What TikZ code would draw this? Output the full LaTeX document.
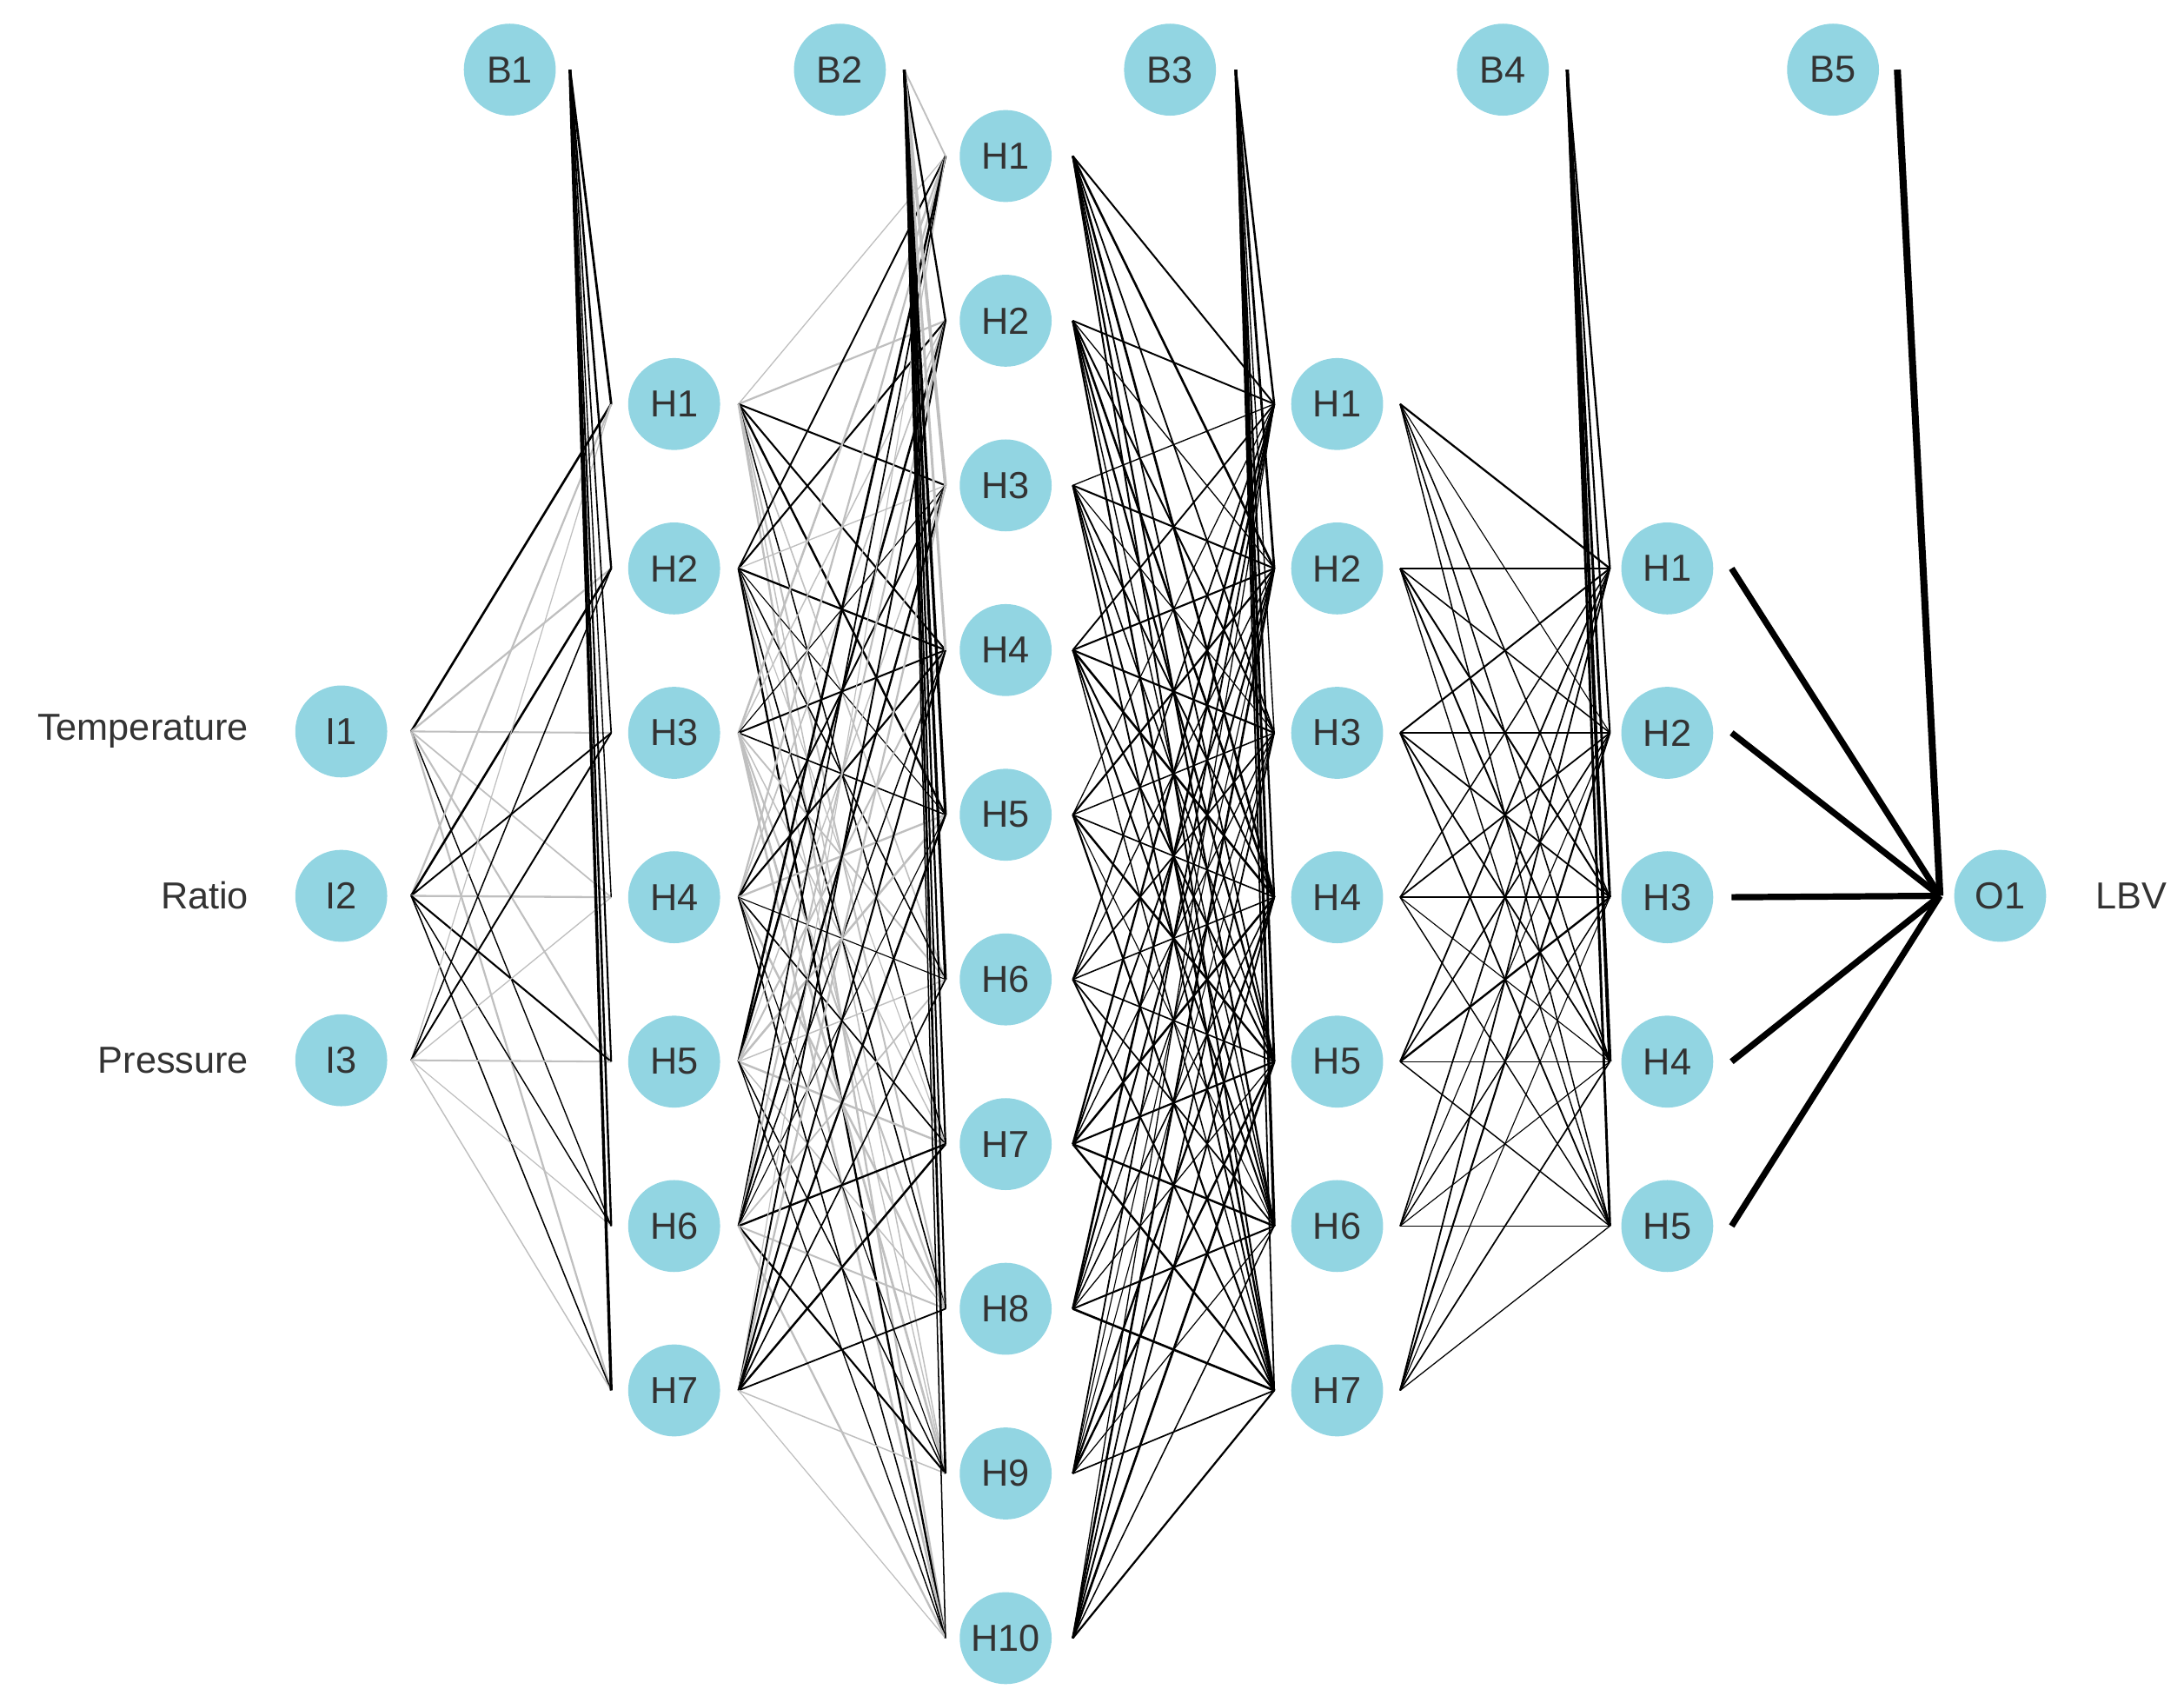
\documentclass[tikz,border=0pt]{standalone}
\usepackage{fontspec}
\setmainfont{Liberation Sans}
\begin{document}
\begin{tikzpicture}[x=1pt,y=-1pt,
  neuron/.style={circle,fill=nodeblue,minimum size=66pt,inner sep=0pt,text=black!80,font=\fontsize{27}{27}\selectfont},
  lab/.style={text=black!80,font=\fontsize{27}{27}\selectfont},
  conn/.style={line width=1pt}]
\definecolor{nodeblue}{HTML}{92D5E2}
\useasboundingbox (0,0) rectangle (1568,1217);
\pgfmathsetseed{11}
% nodes
\foreach \k/\y/\t in {1/525/Temperature,2/643/Ratio,3/761/Pressure}{
  \node[neuron] (i\k) at (245,\y) {I\k};
  \node[lab,anchor=east] (t\k) at (182,\y) {\t};}
\foreach \k in {1,...,7}{\pgfmathsetmacro\y{290+(\k-1)*118}
  \node[neuron] (a\k) at (484,\y) {H\k};
  \node[neuron] (c\k) at (960,\y) {H\k};}
\foreach \k in {1,...,10}{\pgfmathsetmacro\y{112+(\k-1)*118.2}
  \node[neuron] (b\k) at (722,\y) {H\k};}
\foreach \k in {1,...,5}{\pgfmathsetmacro\y{408+(\k-1)*118}
  \node[neuron] (d\k) at (1197,\y) {H\k};}
\node[neuron] (o1) at (1436,643) {O1};
\node[lab] (lbv) at (1530,643) {LBV};
\foreach \k/\x in {1/366,2/603,3/840,4/1079,5/1316}{\node[neuron] (bb\k) at (\x,50) {B\k};}
% layer 1
\foreach \i in {1,2,3}\foreach \j in {1,...,7}{
  \pgfmathsetmacro\g{rnd>0.5?100:25}\pgfmathsetmacro\w{0.7+rnd*1.0}
  \draw[black!\g,line width=\w pt] ([xshift=17pt]i\i.east) -- ([xshift=-12pt]a\j.west);}
\foreach \j in {1,...,7}{\pgfmathsetmacro\w{0.8+rnd*1.5}
  \draw[black,line width=\w pt] ([xshift=10pt]bb1.east) -- ([xshift=-12pt]a\j.west);}
% layer 2
\foreach \i in {1,...,7}\foreach \j in {1,...,10}{
  \pgfmathsetmacro\g{rnd>0.45?100:25}\pgfmathsetmacro\w{0.7+rnd*1.0}
  \draw[black!\g,line width=\w pt] ([xshift=13pt]a\i.east) -- ([xshift=-10pt]b\j.west);}
\foreach \j in {1,...,10}{\pgfmathsetmacro\g{rnd>0.4?100:25}\pgfmathsetmacro\w{0.8+rnd*1.5}
  \draw[black!\g,line width=\w pt] ([xshift=13pt]bb2.east) -- ([xshift=-10pt]b\j.west);}
% layer 3
\foreach \i in {1,...,10}\foreach \j in {1,...,7}{
  \pgfmathsetmacro\w{0.7+rnd*1.0}
  \draw[black,line width=\w pt] ([xshift=15pt]b\i.east) -- ([xshift=-12pt]c\j.west);}
\foreach \j in {1,...,7}{\pgfmathsetmacro\w{0.8+rnd*1.5}
  \draw[black,line width=\w pt] ([xshift=14pt]bb3.east) -- ([xshift=-12pt]c\j.west);}
% layer 4
\foreach \i in {1,...,7}\foreach \j in {1,...,5}{
  \pgfmathsetmacro\w{0.7+rnd*0.8}
  \draw[black,line width=\w pt] ([xshift=12pt]c\i.east) -- ([xshift=-8pt]d\j.west);}
\foreach \j in {1,...,5}{\pgfmathsetmacro\w{1+rnd*1.5}
  \draw[black,line width=\w pt] ([xshift=13pt]bb4.east) -- ([xshift=-8pt]d\j.west);}
% output
\foreach \i in {1,...,5}{
  \draw[black,line width=4.5pt] ([xshift=13pt]d\i.east) -- ([xshift=-10pt]o1.west);}
\draw[black,line width=5pt] ([xshift=13pt]bb5.east) -- ([xshift=-10pt]o1.west);
\end{tikzpicture}
\end{document}
